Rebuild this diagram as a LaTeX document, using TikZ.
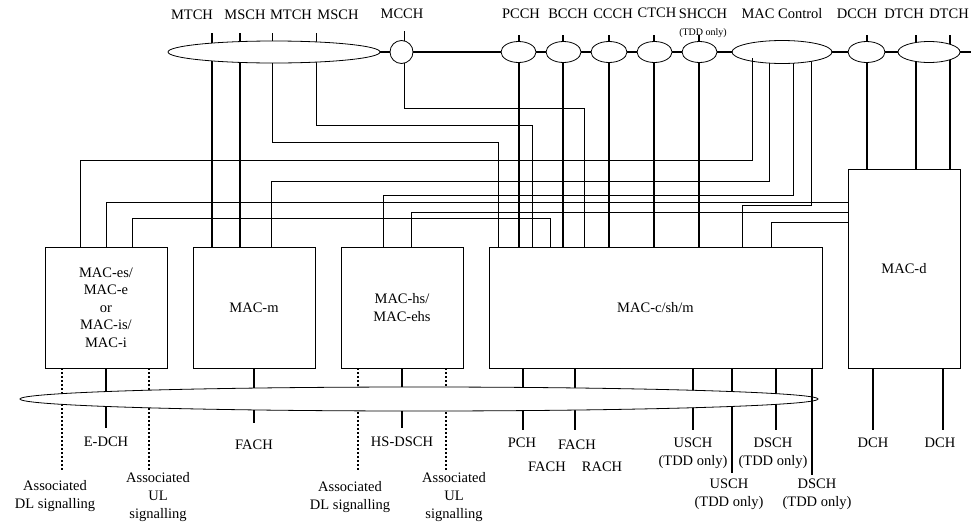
\documentclass[tikz,border=0pt]{standalone}
\usepackage{fontspec}
\setmainfont{Liberation Serif}
\usetikzlibrary{shapes.geometric,backgrounds}

\begin{document}
\begin{tikzpicture}[x=1pt, y=-1pt,
  font=\fontsize{14.5}{18}\selectfont,
  box/.style={draw, line width=0.8pt, inner sep=0pt, outer sep=0pt, align=center},
  chell/.style={draw, ellipse, fill=white, line width=0.8pt, inner sep=0pt, outer sep=0pt},
  lbl/.style={inner sep=0pt, align=center},
  chan/.style={line width=1.5pt},
  route/.style={line width=0.8pt},
  sig/.style={line width=1.5pt, dash pattern=on 2pt off 2pt}
]
\useasboundingbox (0,0) rectangle (971,525);

\node[chell, minimum width=212pt, minimum height=22pt] (mbel) at (274,52) {};
\node[draw, circle, fill=white, line width=0.8pt, inner sep=0pt, minimum size=23pt] (mcch) at (401.5,52) {};
\node[chell, minimum width=35pt, minimum height=21pt] (pcch) at (518.5,52) {};
\node[chell, minimum width=35pt, minimum height=21pt] (bcch) at (563.5,52) {};
\node[chell, minimum width=36pt, minimum height=21pt] (ccch) at (609,52) {};
\node[chell, minimum width=35pt, minimum height=21pt] (ctch) at (654.5,52) {};
\node[chell, minimum width=35pt, minimum height=21pt] (shcch) at (699.5,52) {};
\node[chell, minimum width=100pt, minimum height=23pt] (mctl) at (782,52) {};
\node[chell, minimum width=37pt, minimum height=21pt] (dcch) at (866.5,52) {};
\node[chell, minimum width=62pt, minimum height=21pt] (dtel) at (929,52) {};
\coordinate (trunk) at (971,52);

\node[lbl] (lmtcha) at (192,15) {MTCH};
\node[lbl] (lmscha) at (245,15) {MSCH};
\node[lbl] (lmtchb) at (291,15) {MTCH};
\node[lbl] (lmschb) at (338,15) {MSCH};
\node[lbl] (lmcch) at (402,14) {MCCH};
\node[lbl] (lpcch) at (521,14) {PCCH};
\node[lbl] (lbcch) at (568,14) {BCCH};
\node[lbl] (lccch) at (613,14) {CCCH};
\node[lbl] (lctch) at (657,13) {CTCH};
\node[lbl] (lshcch) at (703,14) {SHCCH};
\node[lbl, font=\fontsize{10}{12}\selectfont] (ltdd) at (703,33) {(TDD only)};
\node[lbl] (lmctl) at (782,14) {MAC Control};
\node[lbl] (ldcch) at (857,14) {DCCH};
\node[lbl] (ldtcha) at (904,14) {DTCH};
\node[lbl] (ldtchb) at (949,14) {DTCH};

\node[box, minimum width=122pt, minimum height=121pt, font=\fontsize{14.5}{17.5}\selectfont] (macs) at (106,307.5) {MAC-es/\\MAC-e\\or\\MAC-is/\\MAC-i};
\node[box, minimum width=122pt, minimum height=121pt] (macm) at (254,307.5) {MAC-m};
\node[box, minimum width=122pt, minimum height=121pt] (machs) at (402,307.5) {MAC-hs/\\MAC-ehs};
\node[box, minimum width=333pt, minimum height=121pt] (macc) at (655.5,307.5) {MAC-c/sh/m};
\node[box, minimum width=112pt, minimum height=199pt] (macd) at (904,268.5) {MAC-d};

\node[chell, minimum width=798pt, minimum height=24pt] (trch) at (419,399) {};

\coordinate (mtcha) at (212,33);
\coordinate (mscha) at (240,33);
\coordinate (mtchb) at (272,33);
\coordinate (mschb) at (316,33);
\coordinate (mcchtap) at (404,31);
\coordinate (pcchtap) at (519,35);
\coordinate (bcchtap) at (563,35);
\coordinate (ccchtap) at (609,35);
\coordinate (ctchtap) at (654,35);
\coordinate (shcchtap) at (699,35);
\coordinate (dcchtap) at (867,35);
\coordinate (dtcha) at (916,35);
\coordinate (dtchb) at (950,35);

\begin{pgfonlayer}{background}
\draw[chan] (mbel) -- (trunk);
\draw[chan] (mtcha) -- (mtcha |- macm.north);
\draw[chan] (mscha) -- (mscha |- macm.north);
\draw[route] (mtchb) |- (498,142) -- (498,0 |- macc.north);
\draw[route] (mschb) |- (532,125) -- (532,0 |- macc.north);
\draw[route] (mcchtap) |- (584,108) -- (584,0 |- macc.north);
\draw[chan] (pcchtap) -- (pcchtap |- macc.north);
\draw[chan] (bcchtap) -- (bcchtap |- macc.north);
\draw[chan] (ccchtap) -- (ccchtap |- macc.north);
\draw[chan] (ctchtap) -- (ctchtap |- macc.north);
\draw[chan] (shcchtap) -- (shcchtap |- macc.north);
\draw[chan] (dcchtap) -- (dcchtap |- macd.north);
\draw[chan] (dtcha) -- (dtcha |- macd.north);
\draw[chan] (dtchb) -- (dtchb |- macd.north);

\draw[route] (769,0 |- mctl.center) |- (271,181) -- (271,0 |- macm.north);
\draw[route] (793,0 |- mctl.center) |- (383,195) -- (383,0 |- machs.north);
\draw[route] (811,0 |- mctl.center) |- (742,205) -- (742,0 |- macc.north);
\draw[route] (106,0 |- macs.north) |- (macd.west |- 0,202);
\draw[route] (132,0 |- macs.north) |- (550,218) -- (550,0 |- macc.north);
\draw[route] (411,0 |- machs.north) |- (macd.west |- 0,212);
\draw[route] (771,0 |- macc.north) |- (macd.west |- 0,222);

\draw[sig] (62,0 |- macs.south) -- (62,470);
\draw[chan] (106,0 |- macs.south) -- (106,428);
\draw[sig] (149,0 |- macs.south) -- (149,470);
\draw[chan] (254,0 |- macm.south) -- (254,423);
\draw[sig] (358,0 |- machs.south) -- (358,470);
\draw[chan] (402,0 |- machs.south) -- (402,428);
\draw[sig] (446,0 |- machs.south) -- (446,470);
\draw[chan] (523,0 |- macc.south) -- (523,430);
\draw[chan] (575,0 |- macc.south) -- (575,430);
\draw[chan] (693,0 |- macc.south) -- (693,430);
\draw[chan] (732,0 |- macc.south) -- (732,473);
\draw[chan] (776,0 |- macc.south) -- (776,430);
\draw[chan] (873,0 |- macd.south) -- (873,430);
\draw[chan] (943,0 |- macd.south) -- (943,430);
\end{pgfonlayer}

\draw[route] (752,58) |- (80,160) -- (80,0 |- macs.north);
\draw[chan] (812,0 |- macc.south) -- (812,475);

\node[lbl] (ledch) at (106,442) {E-DCH};
\node[lbl] (lfachm) at (254,445) {FACH};
\node[lbl] (lhsdsch) at (402,442) {HS-DSCH};
\node[lbl] (ldla) at (55,496) {Associated\\DL signalling};
\node[lbl] (lula) at (158,497) {Associated\\UL\\signalling};
\node[lbl] (ldlb) at (350,497) {Associated\\DL signalling};
\node[lbl] (lulb) at (454,497) {Associated\\UL\\signalling};
\node[lbl] (lpch) at (522,443) {PCH};
\node[lbl] (lfacha) at (577,445) {FACH};
\node[lbl] (lfachb) at (547,467) {FACH};
\node[lbl] (lrach) at (602,467) {RACH};
\node[lbl] (luscha) at (693,453) {USCH\\(TDD only)};
\node[lbl] (ldscha) at (773,453) {DSCH\\(TDD only)};
\node[lbl] (lusch) at (729,494) {USCH\\(TDD only)};
\node[lbl] (ldsch) at (817,494) {DSCH\\(TDD only)};
\node[lbl] (ldcha) at (873,443) {DCH};
\node[lbl] (ldchb) at (940,443) {DCH};
\end{tikzpicture}
\end{document}
